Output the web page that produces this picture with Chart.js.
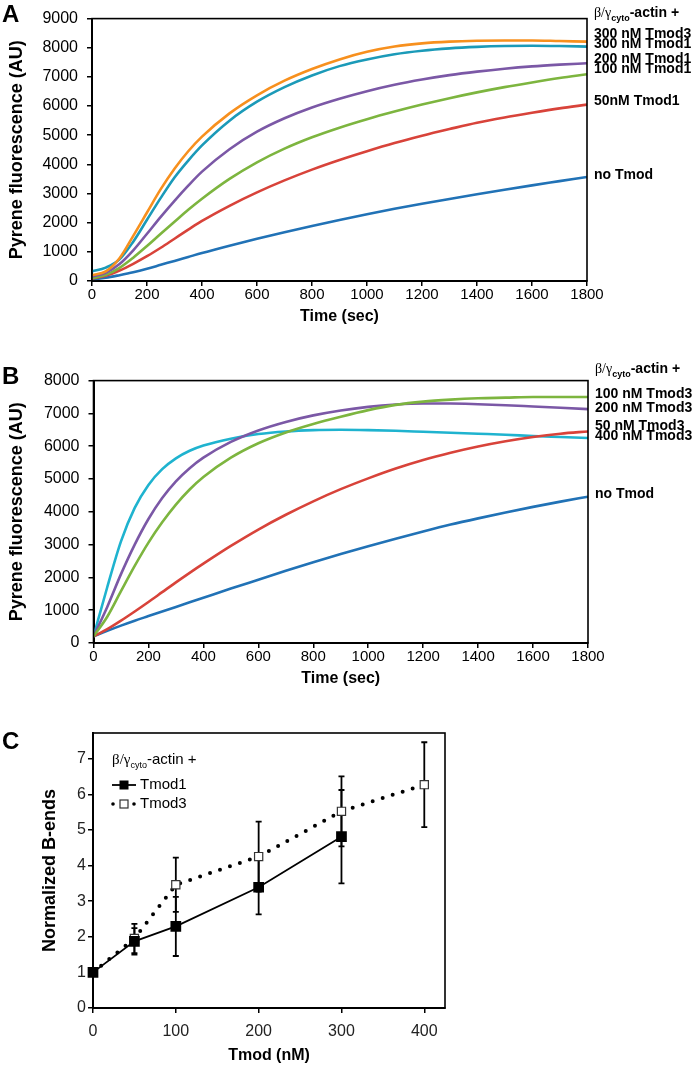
<!DOCTYPE html>
<html>
<head>
<meta charset="utf-8">
<script src="https://cdn.jsdelivr.net/npm/chart.js@4.4.0/dist/chart.umd.min.js"></script>
<style>
  body { margin: 0; background: #fff; }
  #wrap { position: relative; width: 693px; height: 1065px; }
  canvas { position: absolute; left: 0; }
</style>
</head>
<body>
<div id="wrap">
  <canvas id="chartA" width="693" height="330" style="top:0"></canvas>
  <canvas id="chartB" width="693" height="330" style="top:362px"></canvas>
  <canvas id="chartC" width="693" height="345" style="top:720px"></canvas>
</div>
<script>
// time points (sec) shared by the kinetic traces
const times = [0, 50, 100, 150, 200, 250, 300, 350, 400, 500, 600, 700, 800, 900, 1000, 1100, 1200, 1300, 1400, 1500, 1600, 1700, 1800];

// panel A: beta/gamma-cyto actin + Tmod1 / Tmod3
const namesA = ['300 nM Tmod3', '300 nM Tmod1', '200 nM Tmod1', '100 nM Tmod1', '50nM Tmod1', 'no Tmod'];
const a300Tmod3 = [200, 330, 780, 1550, 2350, 3150, 3850, 4450, 4950, 5750, 6370, 6870, 7270, 7600, 7860, 8040, 8150, 8210, 8240, 8250, 8250, 8230, 8210];
const a300Tmod1 = [330, 460, 740, 1350, 2100, 2850, 3550, 4130, 4650, 5500, 6150, 6650, 7050, 7370, 7600, 7780, 7900, 7980, 8030, 8060, 8070, 8060, 8040];
const a200Tmod1 = [150, 280, 580, 1050, 1620, 2200, 2750, 3270, 3750, 4520, 5120, 5580, 5950, 6250, 6510, 6730, 6910, 7060, 7180, 7280, 7360, 7420, 7470];
const a100Tmod1 = [100, 210, 450, 800, 1200, 1620, 2030, 2440, 2820, 3500, 4070, 4540, 4930, 5260, 5550, 5810, 6050, 6270, 6470, 6650, 6810, 6960, 7090];
const a50Tmod1  = [80, 180, 360, 590, 850, 1140, 1450, 1760, 2060, 2580, 3040, 3450, 3820, 4150, 4450, 4730, 4980, 5210, 5430, 5610, 5770, 5920, 6050];
const aNoTmod   = [50, 110, 200, 300, 420, 555, 690, 825, 960, 1210, 1450, 1675, 1890, 2095, 2290, 2475, 2650, 2815, 2975, 3130, 3280, 3425, 3570];

// panel B: Tmod3 series
const namesB = ['100 nM Tmod3', '200 nM Tmod3', '50 nM Tmod3', '400 nM Tmod3', 'no Tmod'];
const b100Tmod3 = [200, 800, 1580, 2350, 3060, 3680, 4220, 4680, 5060, 5650, 6090, 6420, 6680, 6900, 7100, 7260, 7360, 7420, 7460, 7480, 7500, 7500, 7500];
const b200Tmod3 = [200, 1100, 2100, 3000, 3780, 4420, 4930, 5330, 5650, 6130, 6480, 6740, 6940, 7090, 7200, 7270, 7300, 7300, 7280, 7250, 7210, 7170, 7130];
const b50Tmod3  = [200, 420, 680, 960, 1250, 1550, 1850, 2140, 2420, 2960, 3460, 3910, 4320, 4690, 5020, 5320, 5580, 5800, 5990, 6150, 6280, 6380, 6450];
const b400Tmod3 = [200, 1700, 3100, 4120, 4820, 5300, 5630, 5860, 6020, 6230, 6370, 6450, 6490, 6500, 6490, 6470, 6440, 6410, 6380, 6350, 6310, 6280, 6250];
const bNoTmod   = [200, 370, 530, 680, 820, 960, 1100, 1240, 1380, 1660, 1930, 2200, 2460, 2710, 2950, 3180, 3400, 3610, 3800, 3980, 4150, 4310, 4460];

// panel C: normalized barbed ends vs Tmod concentration
const concTmod1 = [0, 50, 100, 200, 300];
const meanTmod1 = [1, 1.87, 2.29, 3.39, 4.81];
const errTmod1  = [0, 0.37, 0.83, 0.76, 1.31];
const concTmod3 = [0, 50, 100, 200, 300, 400];
const meanTmod3 = [1, 1.95, 3.46, 4.25, 5.52, 6.27];
const errTmod3  = [0, 0.41, 0.76, 0.98, 0.98, 1.19];

const SANS = '"Liberation Sans", Arial, sans-serif';
Chart.defaults.font.family = SANS;
Chart.defaults.color = '#000';

function drawActin(ctx, x, y, size, weight) {
  ctx.textAlign = 'left';
  ctx.textBaseline = 'alphabetic';
  ctx.font = size + 'px "Liberation Serif", serif';
  ctx.fillText('β/γ', x, y);
  x += ctx.measureText('β/γ').width;
  ctx.font = weight + ' ' + Math.round(size * 0.62) + 'px ' + SANS;
  ctx.fillText('cyto', x, y + size * 0.28);
  x += ctx.measureText('cyto').width;
  ctx.font = weight + ' ' + size + 'px ' + SANS;
  ctx.fillText('-actin +', x, y);
}

const framePlugin = {
  id: 'frame',
  afterDraw(chart, args, opts) {
    const {ctx, chartArea: c} = chart;
    ctx.save();
    ctx.strokeStyle = '#000';
    ctx.lineWidth = 1.6;
    ctx.strokeRect(c.left, c.top, c.right - c.left, c.bottom - c.top);
    ctx.fillStyle = '#000';
    ctx.font = 'bold 24px ' + SANS;
    ctx.textAlign = 'left';
    ctx.textBaseline = 'middle';
    ctx.fillText(opts.letter, 2, opts.letterY);
    ctx.restore();
  }
};

// series names written at the right of the plot, on given baselines
const endLabels = {
  id: 'endLabels',
  afterDraw(chart, args, opts) {
    const {ctx, chartArea: c} = chart;
    ctx.save();
    ctx.fillStyle = '#000';
    drawActin(ctx, c.right + 7, opts.headerY, 14, 'bold');
    ctx.font = 'bold 14px ' + SANS;
    ctx.textBaseline = 'alphabetic';
    opts.names.forEach((name, i) => {
      ctx.fillText(name, c.right + 7, opts.baselines[i]);
    });
    ctx.restore();
  }
};

function axisStyle(extra) {
  return Object.assign({
    grid: { drawOnChartArea: false, tickLength: 5, color: '#000', lineWidth: 1.5 },
    border: { color: '#000', width: 2 }
  }, extra);
}

function kinetics(id, yMax, series, colors, names, baselines, letter, headerY, leftW, rightPad) {
  return new Chart(document.getElementById(id), {
    type: 'line',
    data: {
      datasets: series.map((vals, i) => ({
        data: times.map((t, k) => ({ x: t, y: vals[k] })),
        borderColor: colors[i],
        borderWidth: 2.6,
        pointRadius: 0,
        cubicInterpolationMode: 'monotone',
        fill: false
      }))
    },
    options: {
      responsive: false,
      animation: false,
      layout: { padding: { top: 12.5, right: rightPad, bottom: 0, left: 0 } },
      plugins: {
        legend: { display: false },
        tooltip: { enabled: false },
        frame: { letter: letter, letterY: 15 },
        endLabels: { names: names, baselines: baselines, headerY: headerY }
      },
      scales: {
        x: axisStyle({
          type: 'linear', min: 0, max: 1800,
          ticks: { stepSize: 200, autoSkip: false, maxRotation: 0, padding: 0, font: { size: 15 }, color: '#000', format: { useGrouping: false } },
          title: { display: true, text: 'Time (sec)', font: { size: 16, weight: 'bold' }, color: '#000', padding: { top: 0, bottom: 4 } },
          afterFit(s) { s.height = 49; }
        }),
        y: axisStyle({
          min: 0, max: yMax,
          ticks: { stepSize: 1000, padding: 9, font: { size: 16 }, color: '#000', format: { useGrouping: false } },
          title: { display: true, text: 'Pyrene fluorescence (AU)', font: { size: 18, weight: 'bold' }, color: '#000', padding: { top: 6.5, bottom: 0 } },
          afterFit(s) { s.width = leftW; }
        })
      }
    },
    plugins: [framePlugin, endLabels]
  });
}

kinetics('chartA', 9000,
  [a300Tmod3, a300Tmod1, a200Tmod1, a100Tmod1, a50Tmod1, aNoTmod],
  ['#F7901E', '#1B9AB8', '#7B58A6', '#7DB53F', '#D8433A', '#2172B6'],
  namesA, [38, 47.5, 63, 72.5, 105, 179], 'A', 17, 92, 106);

kinetics('chartB', 8000,
  [b100Tmod3, b200Tmod3, b50Tmod3, b400Tmod3, bNoTmod],
  ['#7DB53F', '#7B58A6', '#D8433A', '#1FB3CF', '#2172B6'],
  namesB, [36, 50, 67.5, 77.5, 136], 'B', 11, 93.5, 105);

// panel C
const errorBars = {
  id: 'errorBars',
  beforeDatasetsDraw(chart) {
    const {ctx, scales: {x, y}} = chart;
    ctx.save();
    ctx.strokeStyle = '#000';
    ctx.lineWidth = 1.8;
    [[concTmod1, meanTmod1, errTmod1], [concTmod3, meanTmod3, errTmod3]].forEach(([cs, ms, es]) => {
      cs.forEach((c, i) => {
        if (!es[i]) return;
        const px = x.getPixelForValue(c);
        const top = y.getPixelForValue(ms[i] + es[i]);
        const bot = y.getPixelForValue(ms[i] - es[i]);
        ctx.beginPath();
        ctx.moveTo(px, top); ctx.lineTo(px, bot);
        ctx.moveTo(px - 3, top); ctx.lineTo(px + 3, top);
        ctx.moveTo(px - 3, bot); ctx.lineTo(px + 3, bot);
        ctx.stroke();
      });
    });
    ctx.restore();
  }
};

const legendC = {
  id: 'legendC',
  afterDraw(chart) {
    const {ctx} = chart;
    ctx.save();
    ctx.fillStyle = '#000';
    drawActin(ctx, 112, 44, 15, 'normal');
    ctx.font = '15px ' + SANS;
    ctx.textBaseline = 'middle';
    ctx.textAlign = 'left';
    // Tmod1 row
    ctx.strokeStyle = '#000';
    ctx.lineWidth = 1.8;
    ctx.beginPath(); ctx.moveTo(112, 65); ctx.lineTo(136, 65); ctx.stroke();
    ctx.fillRect(119.5, 60.5, 9, 9);
    ctx.fillText('Tmod1', 140, 65);
    // Tmod3 row
    [113, 134].forEach(dx => { ctx.beginPath(); ctx.arc(dx, 84, 1.8, 0, Math.PI * 2); ctx.fill(); });
    ctx.fillStyle = '#fff';
    ctx.fillRect(120, 80, 8, 8);
    ctx.lineWidth = 1.2;
    ctx.strokeStyle = '#333';
    ctx.strokeRect(120, 80, 8, 8);
    ctx.fillStyle = '#000';
    ctx.fillText('Tmod3', 140, 84);
    ctx.restore();
  }
};

new Chart(document.getElementById('chartC'), {
  type: 'line',
  data: {
    datasets: [
      {
        label: 'Tmod1',
        data: concTmod1.map((c, i) => ({ x: c, y: meanTmod1[i] })),
        borderColor: '#000', borderWidth: 1.8,
        pointStyle: 'rect', pointRadius: 6.3,
        pointBackgroundColor: '#000', pointBorderColor: '#000',
        clip: false
      },
      {
        label: 'Tmod3',
        data: concTmod3.map((c, i) => ({ x: c, y: meanTmod3[i] })),
        borderColor: '#000', borderWidth: 4,
        borderDash: [0, 10.5], borderCapStyle: 'round',
        pointStyle: 'rect', pointRadius: 5.8, pointBorderWidth: 1.2,
        pointBackgroundColor: '#fff', pointBorderColor: '#333',
        clip: false
      }
    ]
  },
  options: {
    responsive: false,
    animation: false,
    layout: { padding: { top: 13, right: 248, bottom: 0, left: 0 } },
    plugins: {
      legend: { display: false },
      tooltip: { enabled: false },
      frame: { letter: 'C', letterY: 22 }
    },
    scales: {
      x: axisStyle({
        type: 'linear', min: 0, max: 425,
        ticks: { stepSize: 100, includeBounds: false, autoSkip: false, maxRotation: 0, padding: 9, font: { size: 16 }, color: '#222' },
        title: { display: true, text: 'Tmod (nM)', font: { size: 16, weight: 'bold' }, color: '#000', padding: { top: 0, bottom: 0 } },
        afterFit(s) { s.height = 57; }
      }),
      y: axisStyle({
        min: 0, max: 7.72,
        ticks: { stepSize: 1, includeBounds: false, padding: 2, font: { size: 16 }, color: '#222' },
        title: { display: true, text: 'Normalized B-ends', font: { size: 18, weight: 'bold' }, color: '#000', padding: { top: 39, bottom: 0 } },
        afterFit(s) { s.width = 93; }
      })
    }
  },
  plugins: [framePlugin, errorBars, legendC]
});
</script>
</body>
</html>
